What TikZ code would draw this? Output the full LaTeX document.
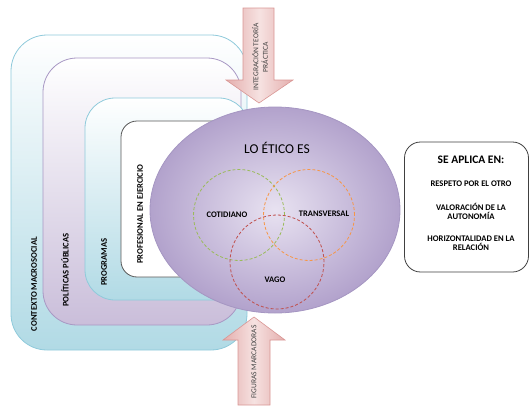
\documentclass[tikz,border=0pt]{standalone}
\usepackage{fontspec}
\setmainfont{Carlito}
\usetikzlibrary{shapes.geometric}
\definecolor{cyanE}{HTML}{8FCADB}
\definecolor{cyanF}{HTML}{B1DAE5}
\definecolor{lavE}{HTML}{A898C4}
\definecolor{lavF}{HTML}{CABEDA}
\definecolor{ellE}{HTML}{A596C2}
\definecolor{ellIn}{HTML}{E8E2F1}
\definecolor{ellOut}{HTML}{B2A2CC}
\definecolor{pinkD}{HTML}{E4AEAD}
\definecolor{pinkL}{HTML}{F6E2E1}
\definecolor{pinkE}{HTML}{D99694}
\definecolor{vgreen}{HTML}{9BBB59}
\definecolor{vorange}{HTML}{F79646}
\definecolor{vred}{HTML}{C0504D}
\definecolor{arrtxt}{HTML}{404040}
\begin{document}
\begin{tikzpicture}[x=1pt,y=-1pt,
  frame/.style={rectangle, inner sep=0pt, line width=0.8pt},
  boxlbl/.style={rotate=90, font=\bfseries\fontsize{8.6}{10}\selectfont, inner sep=0pt},
  vennlbl/.style={font=\bfseries\fontsize{8.5}{10}\selectfont, inner sep=0pt},
  venn/.style={circle, inner sep=0pt, line width=0.8pt, dash pattern=on 3pt off 2pt},
  arrowbody/.style={draw=pinkE, line width=0.6pt, left color=pinkD, right color=pinkD, middle color=pinkL},
  arrlbl/.style={rotate=90, text=arrtxt, font=\fontsize{7.5}{9.5}\selectfont, align=center, inner sep=0pt},
  aplbl/.style={font=\bfseries\fontsize{8.6}{9.4}\selectfont, align=center, inner sep=0pt}
]
\useasboundingbox (0,0) rectangle (531,407);

% nested frames
\node[frame, draw=cyanE, top color=white, bottom color=cyanF, rounded corners=36pt,
      minimum width=236pt, minimum height=315pt] (ctx) at (129,192.5) {};
\node[frame, draw=lavE, top color=white, bottom color=lavF, rounded corners=34pt,
      minimum width=198pt, minimum height=267pt] (pol) at (142,191.5) {};
\node[frame, draw=cyanE, top color=white, bottom color=cyanF, rounded corners=30pt,
      minimum width=164pt, minimum height=202pt] (prog) at (167,199) {};
\node[frame, draw=black!65, fill=white, rounded corners=16pt,
      minimum width=120pt, minimum height=156pt] (prof) at (181,199) {};

\node[boxlbl] (lctx) at (34,284) {CONTEXTO MACROSOCIAL};
\node[boxlbl] (lpol) at (65,270) {POLÍTICAS PÚBLICAS};
\node[boxlbl] (lprog) at (104,262) {PROGRAMAS};
\node[boxlbl] (lprof) at (140,214) {PROFESIONAL EN EJERCICIO};

% central ellipse
\node[ellipse, inner sep=0pt, draw=ellE, line width=0.8pt, inner color=ellIn, outer color=ellOut,
      minimum width=250pt, minimum height=206pt] (eth) at (275,210) {};
\node[font=\fontsize{13.5}{16}\selectfont, inner sep=0pt] (ethT) at (277,148) {LO ÉTICO ES};

% venn circles
\node[venn, draw=vgreen, minimum size=91pt] (cg) at (239,215) {};
\node[venn, draw=vorange, minimum size=91pt] (co) at (309,215) {};
\node[venn, draw=vred, minimum size=94pt] (cr) at (277,262) {};
\node[vennlbl] (lcot) at (227,215) {COTIDIANO};
\node[vennlbl] (ltra) at (324,214) {TRANSVERSAL};
\node[vennlbl] (lvag) at (275,280) {VAGO};

% top arrow
\path[arrowbody] (243,8) -- (274,8) -- (274,80) -- (293,80) -- (259,103) -- (226,80) -- (243,80) -- cycle;
\node[arrlbl] (tarr) at (260,57) {INTEGRACIÓN TEORÍA\\PRÁCTICA};

% bottom arrow
\path[arrowbody] (254,317) -- (285,340) -- (270,340) -- (270,405) -- (238,405) -- (238,340) -- (223,340) -- cycle;
\node[arrlbl] (barr) at (254,362) {FIGURAS MARCADORAS};

% right box
\node[frame, draw=black!75, fill=white, rounded corners=16pt,
      minimum width=124pt, minimum height=130pt] (apl) at (466.5,207) {};
\node[font=\bfseries\fontsize{11.5}{13.5}\selectfont, inner sep=0pt] (aplT) at (471,160) {SE APLICA EN:};
\node[aplbl] (a1) at (471,184) {RESPETO POR EL OTRO};
\node[aplbl] (a2) at (471,211.5) {VALORACIÓN DE LA\\AUTONOMÍA};
\node[aplbl] (a3) at (471,243.5) {HORIZONTALIDAD EN LA\\RELACIÓN};
\end{tikzpicture}
\end{document}
